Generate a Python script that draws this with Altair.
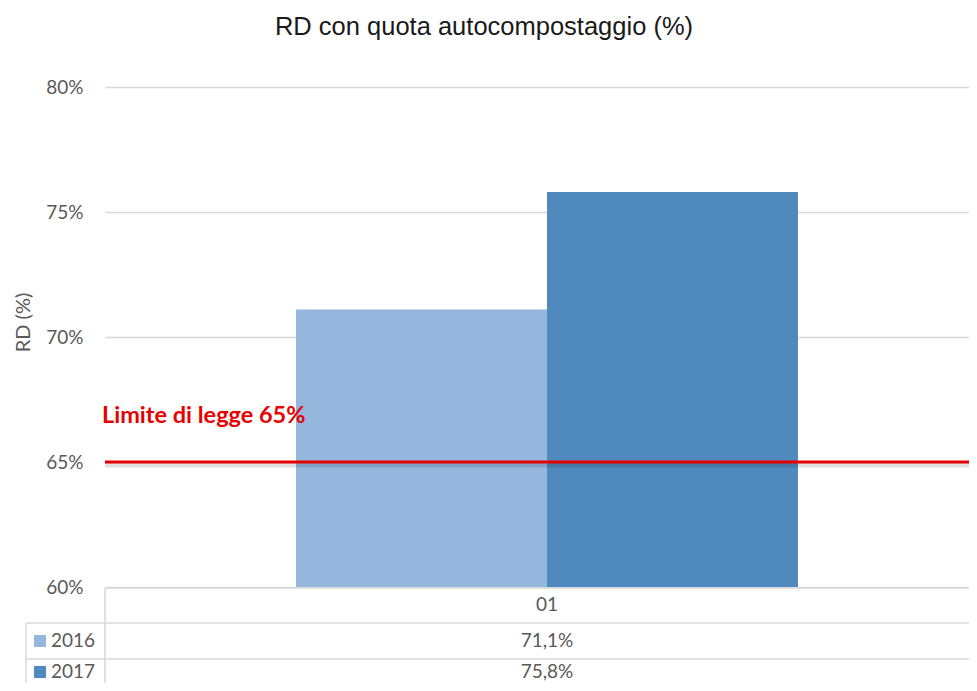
import altair as alt
import pandas as pd

# ---- data ----
categories = ["01"]
years = ["2016", "2017"]
values = [71.1, 75.8]
limit_value = [65]
limit_label = ["Limite di legge 65%"]
y_ticks = [60, 65, 70, 75, 80]
title_text = "RD con quota autocompostaggio (%)"
y_title = "RD (%)"

# ---- styling ----
W, H = 864, 500
bar_colors = ["#95B7DE", "#4F89BD"]
grey_text = "#595959"
grid_col = "#D9D9D9"
red = "#E60000"
FONT = "Lato"

df = pd.DataFrame({"cat": [categories[0]] * len(years), "year": years, "value": values})
cat_df = pd.DataFrame({"cat": categories})
lim_df = pd.DataFrame({"limit": limit_value, "label": limit_label})
one = pd.DataFrame({"k": [0]})

xscale = alt.Scale(domain=categories, paddingInner=0, paddingOuter=0.3606, align=0.5276)
yscale = alt.Scale(domain=[60, 80], nice=False, zero=False)
cscale = alt.Scale(domain=years, range=bar_colors)

yaxis = alt.Axis(
    values=y_ticks, labelExpr="datum.value + '%'", grid=True, gridColor=grid_col,
    gridWidth=1.5, domain=False, ticks=False, labelPadding=22, labelColor=grey_text,
    labelFont=FONT, labelFontSize=19, title=y_title, titleColor=grey_text,
    titleFont=FONT, titleFontSize=20, titleFontWeight="normal", titleX=-82, titleY=235,
    titleAngle=270, titleAlign="center", titleBaseline="middle",
)

bars = alt.Chart(df).mark_bar().encode(
    x=alt.X("cat:N", scale=xscale, axis=None),
    xOffset=alt.XOffset("year:N", scale=alt.Scale(domain=years, paddingInner=0, paddingOuter=0)),
    y=alt.Y("value:Q", scale=yscale, axis=yaxis),
    y2=alt.datum(60),
    color=alt.Color("year:N", scale=cscale, legend=None),
)

shadow = alt.Chart(lim_df).mark_rule(color="#000000", strokeWidth=5, opacity=0.12, yOffset=3).encode(
    y=alt.Y("limit:Q", scale=yscale, axis=yaxis)
)
limit_rule = alt.Chart(lim_df).mark_rule(color=red, strokeWidth=3).encode(
    y=alt.Y("limit:Q", scale=yscale, axis=yaxis)
)
limit_text = alt.Chart(lim_df).mark_text(
    color=red, font=FONT, fontWeight="bold", fontSize=23.5, align="left", baseline="alphabetic", dy=-39
).encode(
    x=alt.value(-3),
    y=alt.Y("limit:Q", scale=yscale, axis=yaxis),
    text="label:N",
)

# ---- data table below the plot ----
def hrule(y, x0):
    return alt.Chart(one).mark_rule(color=grid_col, strokeWidth=1.5).encode(
        x=alt.value(x0), x2=alt.value(W), y=alt.value(y)
    )

def vrule(x, y0):
    return alt.Chart(one).mark_rule(color=grid_col, strokeWidth=1.5).encode(
        x=alt.value(x), y=alt.value(y0), y2=alt.value(H + 100)
    )

table_lines = [hrule(501, 0), hrule(536, -79), hrule(572, -79), vrule(0, 501), vrule(-79, 536)]

header = alt.Chart(cat_df).mark_text(color=grey_text, font=FONT, fontSize=19, baseline="middle").encode(
    x=alt.X("cat:N", scale=xscale, axis=None), y=alt.value(518), text="cat:N"
)

row_y = {"2016": 554, "2017": 585}
rows = []
for yr in years:
    base = alt.Chart(df).transform_filter(alt.datum.year == yr)
    rows.append(
        base.transform_calculate(
            lab="replace(format(datum.value, '.1f'), '.', ',') + '%'"
        ).mark_text(color=grey_text, font=FONT, fontSize=19, baseline="middle").encode(
            x=alt.X("cat:N", scale=xscale, axis=None), y=alt.value(row_y[yr]), text="lab:N"
        )
    )
    rows.append(
        base.mark_square(size=144, opacity=1).encode(
            x=alt.value(-65), y=alt.value(row_y[yr]),
            color=alt.Color("year:N", scale=cscale, legend=None),
        )
    )
    rows.append(
        base.mark_text(color=grey_text, font=FONT, fontSize=19, align="left", baseline="middle").encode(
            x=alt.value(-54), y=alt.value(row_y[yr]), text="year:N"
        )
    )

chart = alt.layer(
    bars, shadow, limit_rule, limit_text, *table_lines, header, *rows
).properties(
    width=W, height=H,
    title=alt.Title(
        title_text, font="Liberation Sans", fontSize=25.5, fontWeight="normal", color="#1a1a1a",
        anchor="middle", frame="group", dx=-53, offset=18, baseline="alphabetic",
    ),
    padding={"left": 97, "top": 79, "right": 0, "bottom": 96},
    autosize=alt.AutoSizeParams(type="none"),
).configure_view(stroke=None)

chart.save("out.html", embed_options={"renderer": "svg", "actions": False})
